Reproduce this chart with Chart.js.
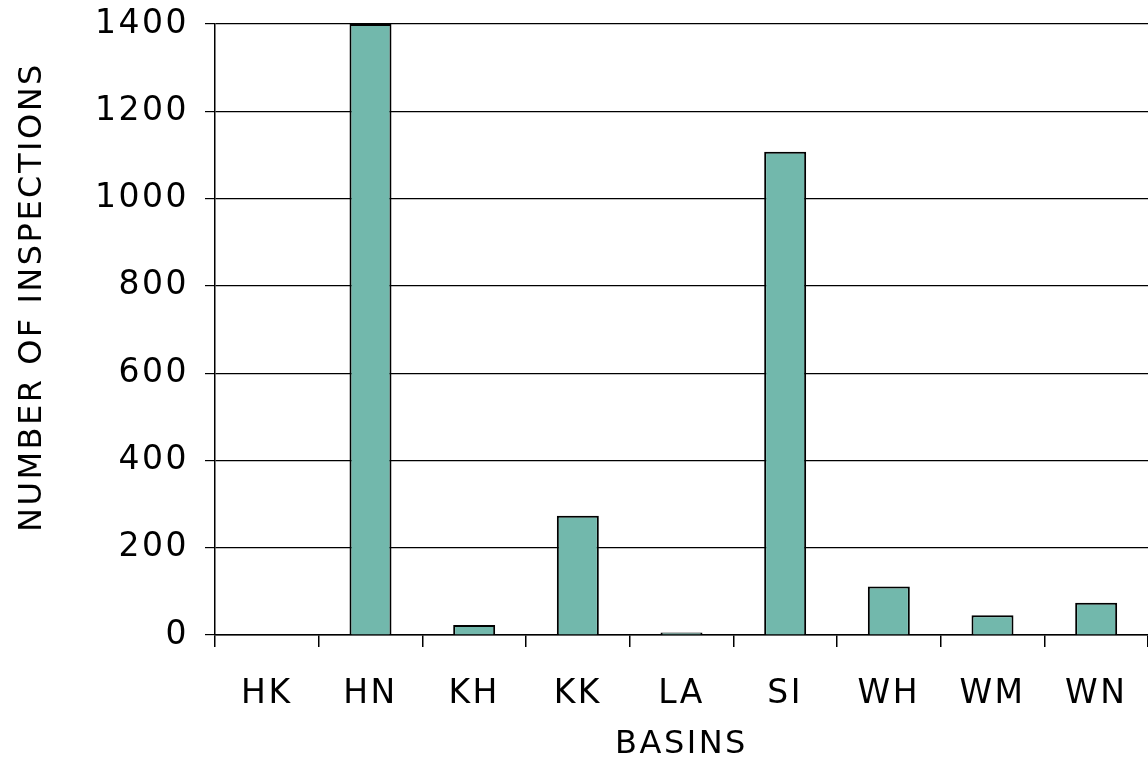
<!DOCTYPE html>
<html>
<head>
  <title>Inspections by Basin</title>
  <script src="https://cdn.jsdelivr.net/npm/chart.js@4/dist/chart.umd.min.js"></script>
  <style>
    html, body { margin: 0; padding: 0; background: #fff; }
    .chart-container { width: 1148px; height: 759px; }
  </style>
</head>
<body>
  <div class="chart-container">
    <canvas id="basinChart"></canvas>
  </div>
  <script>
    // values
    const basins = ['HK', 'HN', 'KH', 'KK', 'LA', 'SI', 'WH', 'WM', 'WN'];
    const inspections = [0, 1400, 23, 273, 6, 1107, 111, 45, 74];
    const yTitle = 'NUMBER OF INSPECTIONS';
    const xTitle = 'BASINS';

    const fontFamily = '"DejaVu Sans", Verdana, sans-serif';
    const spacing = '2.5px';

    // wider letter spacing like the original, set before anything is drawn
    const spacingPlugin = {
      id: 'spacing',
      beforeInit(chart) { chart.ctx.letterSpacing = spacing; },
      beforeLayout(chart) { chart.ctx.letterSpacing = spacing; },
      beforeDraw(chart) { chart.ctx.letterSpacing = spacing; }
    };

    // y title drawn by hand so it can sit where the original has it
    const yTitlePlugin = {
      id: 'yTitle',
      afterDraw(chart) {
        const ctx = chart.ctx;
        ctx.save();
        ctx.translate(33, 297);
        ctx.rotate(-Math.PI / 2);
        ctx.letterSpacing = spacing;
        ctx.font = '32px ' + fontFamily;
        ctx.fillStyle = '#000';
        ctx.textAlign = 'center';
        ctx.textBaseline = 'middle';
        ctx.fillText(yTitle, 0, 0);
        ctx.restore();
      }
    };

    const ctx = document.getElementById('basinChart').getContext('2d');
    new Chart(ctx, {
      type: 'bar',
      data: {
        labels: basins,
        datasets: [{
          label: yTitle,
          data: inspections,
          backgroundColor: '#72b8ac',
          borderColor: '#000',
          borderWidth: 2,
          borderSkipped: 'bottom',
          barPercentage: 0.405,
          categoryPercentage: 1.0,
        }],
      },
      options: {
        responsive: true,
        maintainAspectRatio: false,
        animation: false,
        layout: { padding: { top: 24, right: 0, bottom: 0, left: 0 } },
        plugins: {
          legend: { display: false },
          tooltip: { enabled: false },
        },
        scales: {
          x: {
            offset: true,
            grid: {
              offset: true,
              drawOnChartArea: false,
              drawTicks: true,
              tickLength: 12,
              color: '#000',
              lineWidth: 1.5,
            },
            border: { display: true, color: '#000', width: 1.5 },
            ticks: {
              color: '#000',
              padding: 28,
              font: { family: fontFamily, size: 33 },
              maxRotation: 0,
            },
            title: {
              display: true,
              text: xTitle,
              color: '#000',
              font: { family: fontFamily, size: 32, lineHeight: 0.9 },
              padding: { top: 0, bottom: 0 },
            },
            afterFit(scale) {
              scale.height = 124;
              scale.paddingLeft = 0;
              scale.paddingRight = 0;
            },
          },
          y: {
            min: 0,
            max: 1400,
            ticks: {
              stepSize: 200,
              color: '#000',
              padding: 16,
              font: { family: fontFamily, size: 33 },
              callback: (v) => String(v),
            },
            grid: {
              color: '#000',
              lineWidth: 1.2,
              tickLength: 10,
            },
            border: { display: true, color: '#000', width: 1.5 },
            afterFit(scale) {
              scale.width = 215;
              scale.paddingTop = 0;
              scale.paddingBottom = 0;
            },
          },
        },
      },
      plugins: [spacingPlugin, yTitlePlugin],
    });
  </script>
</body>
</html>
